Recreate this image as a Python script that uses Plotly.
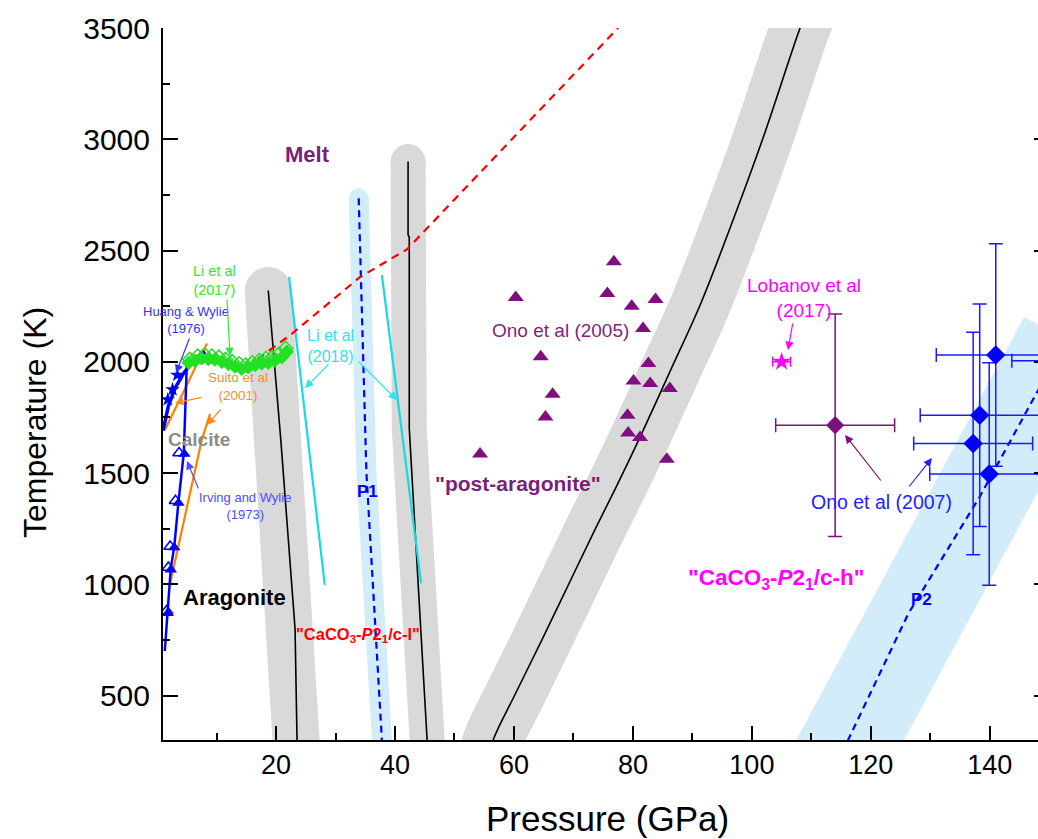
import plotly.graph_objects as go

# ---------------- data (P in GPa, T in K) ----------------
# boundary aragonite / CaCO3-P21/c-l (black line in grey band)
b1_P = [18.7, 20.8, 23.2, 23.5, 23.6]
b1_T = [2320, 1650, 800, 300, 200]
# P1 boundary (blue dashed in light-blue band)
p1_P = [33.9, 35.2, 37.8, 37.9]
p1_T = [2735, 1500, 300, 250]
# boundary CaCO3-P21/c-l / post-aragonite
b3_P = [42.2, 42.2, 42.4, 42.4, 45.4, 45.5]
b3_T = [2900, 2570, 2560, 1700, 300, 250]
# boundary post-aragonite / CaCO3-P21/c-h
b4_P = [55.0, 56.5, 60.1, 64.7, 69.2, 73.7, 77.6, 81.2, 86.3, 91.3, 96.6, 101.8, 108.1, 109.6]
b4_T = [150, 300, 500, 750, 1000, 1250, 1460, 1661, 1960, 2255, 2620, 3000, 3500, 3600]
# P2 boundary
p2_P = [113.5, 116.2, 126.3, 138.3, 147.8, 152.8]
p2_T = [150, 300, 868, 1393, 1857, 2100]
# melting curve (red dashed)
melt_P = [15.0, 22.4, 34.1, 42.0, 77.5]
melt_T = [1975, 2120, 2380, 2505, 3500]
# Li et al (2018) boundaries
li18a_P = [22.2, 28.2]
li18a_T = [2380, 996]
li18b_P = [37.8, 44.4]
li18b_T = [2389, 1004]
# Li et al (2017) melting data
li17f_P = [5.3, 6.4, 7.5, 8.6, 9.7, 10.9, 12.0, 13.1, 14.2, 15.3, 16.5, 17.6, 18.7, 19.8, 21.0, 21.8]
li17f_T = [1995, 2005, 2015, 2012, 2010, 2000, 1990, 1978, 1968, 1975, 1985, 1992, 1995, 2005, 2020, 2045]
li17o_P = [5.5, 6.8, 8.0, 9.2, 10.4, 11.5, 12.6, 13.8, 14.9, 16.0, 17.2, 18.3, 19.4, 20.5, 21.6]
li17o_T = [2010, 2025, 2030, 2025, 2020, 2010, 2000, 1990, 1985, 1995, 2005, 2015, 2020, 2035, 2060]
# Huang & Wylie (1976)
hw_P = [1.0, 1.9, 3.0, 4.5, 6.3, 8.1]
hw_T = [1690, 1800, 1880, 1950, 2010, 2045]
hws_P = [1.8, 2.6, 3.4]
hws_T = [1830, 1875, 1940]
# Irving and Wylie (1973)
iw_P = [1.3, 1.8, 2.3, 2.9, 3.6, 4.5, 5.0]
iw_T = [700, 875, 1070, 1170, 1370, 1590, 1990]
iwo_P = [1.6, 1.9, 2.2, 3.1, 3.7]
iwo_T = [880, 1075, 1170, 1375, 1590]
iwf_P = [1.8, 2.3, 2.9, 3.6, 4.6]
iwf_T = [870, 1065, 1165, 1365, 1585]
# Suito et al (2001)
su1_P = [1.3, 8.4]
su1_T = [1692, 2082]
su2_P = [2.2, 7.5, 8.9]
su2_T = [1003, 1647, 1765]
# Ono et al (2005)
ono05_P = [76.8, 60.3, 75.7, 79.8, 83.8, 81.7, 64.5, 82.6, 80.1, 82.9, 86.2, 66.5, 65.3, 79.1, 79.2, 81.2, 54.3, 85.7]
ono05_T = [2449, 2289, 2307, 2250, 2280, 2150, 2022, 1992, 1913, 1902, 1880, 1854, 1752, 1760, 1680, 1660, 1585, 1562]
# Ono et al (2007) purple
ono07a_P = [114.0]
ono07a_T = [1715]
ono07a_eP = [10]
ono07a_eT = [500]
# Lobanov et al (2017)
lob_P = [105.0]
lob_T = [2000]
lob_eP = [1.5]
# Ono et al (2007) blue
ono07b_P = [141.0, 138.3, 137.2, 139.9, 153.7]
ono07b_T = [2030, 1760, 1633, 1495, 2005]
ono07b_eP = [10, 10, 10, 10, 10]
ono07b_eT = [500, 500, 500, 500, 500]

# ---------------- layout constants ----------------
W, H = 1038, 839
L, R, T_, B = 163, 0, 28, 99
XR = [1.0, 148.1]
YR = [300, 3500]
PW, PH = W - L - R, H - T_ - B

GREY = '#d9d9d9'
LBLUE = '#d3ecfa'
PURPLE = '#7f0f7f'
FONT = 'Arial, Liberation Sans, sans-serif'

fig = go.Figure()


def band(P, T, width, color, cap=True, shape='linear'):
    fig.add_trace(go.Scatter(x=P, y=T, mode='lines', line=dict(color=color, width=width, shape=shape),
                             hoverinfo='skip'))
    if cap:
        fig.add_trace(go.Scatter(x=P[:1], y=T[:1], mode='markers',
                                 marker=dict(color=color, size=width, line=dict(width=0)),
                                 hoverinfo='skip'))


band(b1_P, b1_T, 47, GREY)
band(p1_P, p1_T, 20, LBLUE)
band(b3_P, b3_T, 35, GREY)
band(b4_P, b4_T, 60, GREY, cap=False, shape='spline')
band(p2_P, p2_T, 95, LBLUE, cap=False)

# boundary lines
for P, T, shp in [(b1_P, b1_T, 'linear'), (b3_P, b3_T, 'linear'), (b4_P, b4_T, 'spline')]:
    fig.add_trace(go.Scatter(x=P, y=T, mode='lines', line=dict(color='black', width=1.6, shape=shp)))
for P, T in [(p1_P, p1_T), (p2_P, p2_T)]:
    fig.add_trace(go.Scatter(x=P, y=T, mode='lines',
                             line=dict(color='#0000ff', width=2.2, dash='7px,5px')))
for P, T in [(li18a_P, li18a_T), (li18b_P, li18b_T)]:
    fig.add_trace(go.Scatter(x=P, y=T, mode='lines', line=dict(color='#18d8e8', width=2.2)))

# Suito
for P, T in [(su1_P, su1_T), (su2_P, su2_T)]:
    fig.add_trace(go.Scatter(x=P, y=T, mode='lines', line=dict(color='#ff8000', width=2.2)))
# Irving and Wylie
fig.add_trace(go.Scatter(x=iw_P, y=iw_T, mode='lines', line=dict(color='#0000ff', width=2.5)))
fig.add_trace(go.Scatter(x=iwo_P, y=iwo_T, mode='markers',
                         marker=dict(symbol='triangle-up-open', color='#0000ff', size=11, line=dict(width=1.5))))
fig.add_trace(go.Scatter(x=iwf_P, y=iwf_T, mode='markers',
                         marker=dict(symbol='triangle-up', color='#0000ff', size=11)))
# Huang & Wylie
fig.add_trace(go.Scatter(x=hw_P, y=hw_T, mode='lines', line=dict(color='#0000ff', width=3.5)))
fig.add_trace(go.Scatter(x=hws_P, y=hws_T, mode='markers',
                         marker=dict(symbol='star', color='#0000ff', size=11)))

# red dashed melting curve
fig.add_trace(go.Scatter(x=melt_P, y=melt_T, mode='lines',
                         line=dict(color='#ff0000', width=2.2, dash='8px,6px')))

# Li 2017
fig.add_trace(go.Scatter(x=li17o_P, y=li17o_T, mode='markers',
                         marker=dict(symbol='diamond-open', color='#22e022', size=11, line=dict(width=1.5))))
fig.add_trace(go.Scatter(x=li17f_P, y=li17f_T, mode='markers',
                         marker=dict(symbol='diamond', color='#22e022', size=11)))

# Ono 2005
fig.add_trace(go.Scatter(x=ono05_P, y=ono05_T, mode='markers',
                         marker=dict(symbol='triangle-up', color=PURPLE, size=14)))

# Lobanov
fig.add_trace(go.Scatter(x=lob_P, y=lob_T, mode='markers',
                         error_x=dict(type='data', array=lob_eP, color='#ff00ff', thickness=1.5, width=5),
                         marker=dict(symbol='star', color='#ff00ff', size=14)))
# Ono 2007 purple
fig.add_trace(go.Scatter(x=ono07a_P, y=ono07a_T, mode='markers',
                         error_x=dict(type='data', array=ono07a_eP, color=PURPLE, thickness=1.5, width=7),
                         error_y=dict(type='data', array=ono07a_eT, color=PURPLE, thickness=1.5, width=7),
                         marker=dict(symbol='diamond', color=PURPLE, size=14)))
# Ono 2007 blue
fig.add_trace(go.Scatter(x=ono07b_P, y=ono07b_T, mode='markers',
                         error_x=dict(type='data', array=ono07b_eP, color='#1a1aff', thickness=1.5, width=7),
                         error_y=dict(type='data', array=ono07b_eT, color='#1a1aff', thickness=1.5, width=7),
                         marker=dict(symbol='diamond', color='#0000ff', size=15)))

# dummy trace for the right-hand tick axis
fig.add_trace(go.Scatter(x=[XR[0]], y=[YR[0]], yaxis='y2', mode='markers',
                         marker=dict(opacity=0), hoverinfo='skip'))


def px(x, y):
    return (x - L) / PW, (T_ + PH - y) / PH


def label(x, y, text, color, size, bold=False, **kw):
    xp, yp = px(x, y)
    if bold:
        text = '<b>' + text + '</b>'
    fig.add_annotation(x=xp, y=yp, xref='paper', yref='paper', text=text, showarrow=False,
                       font=dict(family=FONT, size=size, color=color), xanchor='center', yanchor='middle',
                       **kw)


def arrow(tx, ty, hx, hy, color, width=1.2):
    xp, yp = px(hx, hy)
    fig.add_annotation(x=xp, y=yp, xref='paper', yref='paper', text='', showarrow=True,
                       ax=tx - hx, ay=ty - hy, arrowhead=2, arrowsize=1.4, arrowwidth=width,
                       arrowcolor=color, standoff=0, startstandoff=0)


label(307, 155, 'Melt', '#7a1f7a', 22, bold=True)
label(214, 280, 'Li et al<br>(2017)', '#33e633', 14.5)
label(186, 320, 'Huang &amp; Wylie<br>(1976)', '#3333ff', 13)
label(330, 346, 'Li et al<br>(2018)', '#33e0ee', 16)
label(238, 386, 'Suito et al<br>(2001)', '#ff8c1a', 13.5)
label(199, 439, 'Calcite', '#8c8c8c', 19, bold=True)
label(245, 506, 'Irving and Wylie<br>(1973)', '#4d4dff', 13)
label(234, 597, 'Aragonite', 'black', 22, bold=True)
label(367, 491, 'P1', '#0000ff', 17, bold=True)
label(518, 483, '"post-aragonite"', '#7a1f7a', 21, bold=True)
label(560, 330, 'Ono et al (2005)', '#7f1f7f', 19)
label(804, 298, 'Lobanov et al<br>(2017)', '#ff00ff', 19)
label(881, 502, 'Ono et al (2007)', '#2222ff', 19.5)
label(776, 579, '"CaCO<sub>3</sub>-<i>P</i>2<sub>1</sub>/c-h"', '#ff00ff', 22.5, bold=True)
label(358, 635, '"CaCO<sub>3</sub>-<i>P</i>2<sub>1</sub>/c-l"', '#ff0000', 16.5, bold=True)
label(921, 599, 'P2', '#0000ff', 17, bold=True)

arrow(227, 298, 230, 356, '#33e633')
arrow(190, 337, 176, 373, '#3333ff')
arrow(203, 397, 175, 403, '#ff8c1a')
arrow(222, 408, 207, 425, '#ff8c1a')
arrow(330, 363, 305, 388, '#33e0ee')
arrow(357, 360, 397, 400, '#33e0ee')
arrow(199, 490, 187, 461, '#4d4dff')
arrow(793, 322, 788, 350, '#ff00ff')
arrow(882, 482, 845, 435, PURPLE)
arrow(908, 488, 932, 458, '#2222ff')

# axis titles
xp, yp = px(35, 423)
fig.add_annotation(x=xp, y=yp, xref='paper', yref='paper', text='Temperature (K)', textangle=-90,
                   xanchor='center', yanchor='middle',
                   showarrow=False, font=dict(family=FONT, size=32, color='black'))
xp, yp = px(607, 819)
fig.add_annotation(x=xp, y=yp, xref='paper', yref='paper', text='Pressure (GPa)',
                   xanchor='center', yanchor='middle',
                   showarrow=False, font=dict(family=FONT, size=35, color='black'))

fig.update_layout(
    width=W, height=H, margin=dict(l=L, r=R, t=T_, b=B, pad=0),
    paper_bgcolor='white', plot_bgcolor='white', showlegend=False,
    xaxis=dict(range=XR, tickmode='array', tickvals=[20, 40, 60, 80, 100, 120, 140],
               ticks='inside', ticklen=14, tickwidth=2, tickcolor='black',
               showline=True, linecolor='black', linewidth=2, showgrid=False, zeroline=False,
               tickfont=dict(family=FONT, size=27, color='black'),
               minor=dict(tickvals=[10, 30, 50, 70, 90, 110, 130, 150], ticks='inside', ticklen=7,
                          tickwidth=2, tickcolor='black', showgrid=False)),
    yaxis=dict(range=YR, tickmode='array', tickvals=[500, 1000, 1500, 2000, 2500, 3000, 3500],
               ticks='inside', ticklen=15, tickwidth=2, tickcolor='black',
               showline=True, linecolor='black', linewidth=2, showgrid=False, zeroline=False,
               ticklabelstandoff=5,
               tickfont=dict(family=FONT, size=30, color='black'),
               minor=dict(tickvals=[750, 1250, 1750, 2250, 2750, 3250], ticks='inside', ticklen=7,
                          tickwidth=2, tickcolor='black', showgrid=False)),
    yaxis2=dict(range=YR, overlaying='y', side='right', tickmode='array',
                tickvals=[500, 1000, 1500, 2000, 2500, 3000, 3500], ticks='inside', ticklen=4,
                tickwidth=2, tickcolor='black', showline=False, showgrid=False, zeroline=False,
                showticklabels=False),
)

fig.write_html('out.html')
